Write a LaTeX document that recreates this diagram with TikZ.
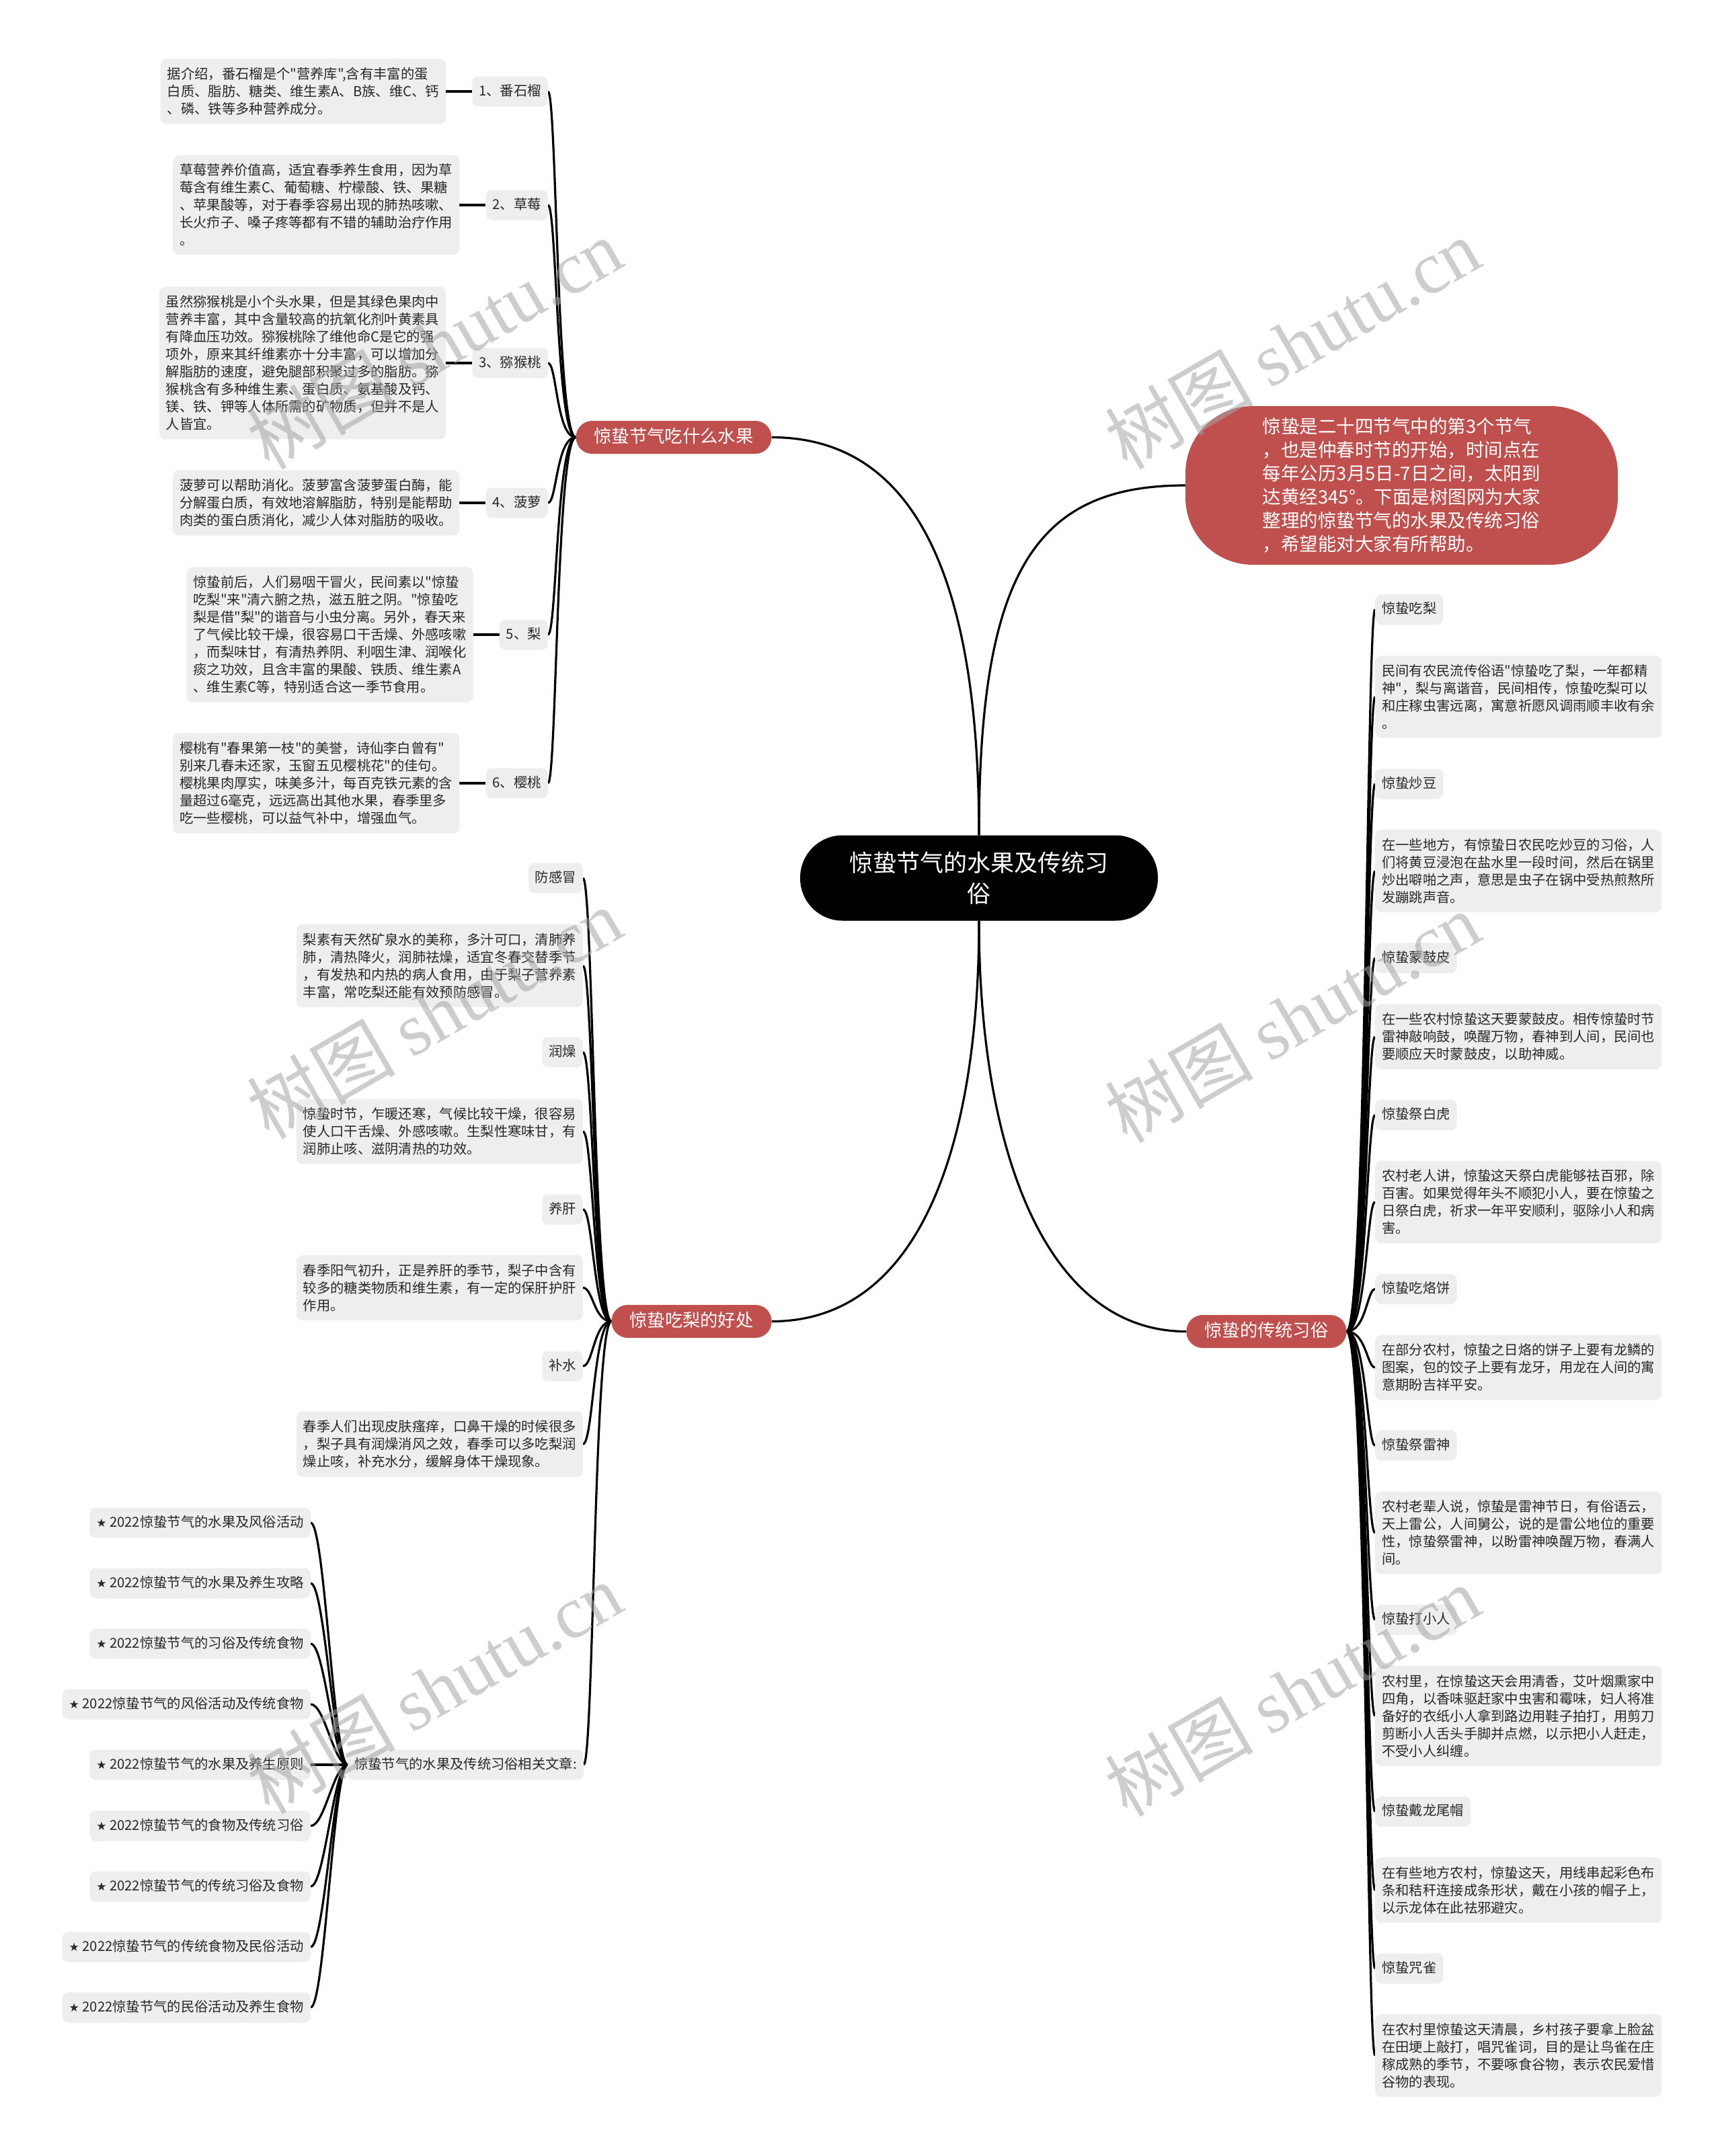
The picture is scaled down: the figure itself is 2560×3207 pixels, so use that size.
\documentclass[tikz,border=0pt]{standalone}
\usepackage{fontspec}
\setmainfont{Noto Sans CJK SC}[Ligatures=TeXOff]
\newfontfamily\dejavu{DejaVu Sans}
\newfontfamily\wmserif{Liberation Serif}
\pgfdeclarelayer{bg}
\pgfdeclarelayer{fg}
\pgfsetlayers{bg,main,fg}
\definecolor{redfill}{RGB}{192,80,77}
\definecolor{boxgray}{RGB}{238,238,238}
\definecolor{txtcol}{RGB}{40,40,40}
\definecolor{wmcol}{RGB}{165,165,165}
\tikzset{
  conn/.style={draw=black, line width=3.2pt},
  txtbox/.style={fill=boxgray, rounded corners=9pt, align=left, inner xsep=10pt, inner ysep=13pt, text=txtcol, font=\fontsize{20.3}{26}\selectfont},
  lbl/.style={fill=boxgray, rounded corners=9pt, inner xsep=10pt, inner ysep=0pt, text height=17pt, text depth=5pt, minimum height=45pt, text=txtcol, font=\fontsize{20.3}{26}\selectfont},
  redpill/.style={fill=redfill, rounded corners=24pt, text=white, minimum height=49pt, inner xsep=27pt, inner ysep=0pt, text height=21pt, text depth=5pt, font=\fontsize{26.3}{30}\selectfont},
  wmark/.style={text=wmcol, opacity=0.55, rotate=30, inner sep=0pt, font=\fontsize{110}{120}\selectfont},
}
\newcommand{\mystar}{{\dejavu\fontsize{17}{20}\selectfont ★}}
\begin{document}
\begin{tikzpicture}[x=1pt,y=-1pt]
\begin{pgfonlayer}{bg}
\fill[white] (0,0) rectangle (2560,3207);
\end{pgfonlayer}
\useasboundingbox (0,0) rectangle (2560,3207);

% root
\node[fill=black, text=white, rounded corners=63pt, minimum width=532pt, minimum height=127pt, align=center, inner sep=0pt, font=\fontsize{35}{46}\selectfont] (root) at (1456,1306) {惊蛰节气的水果及传统习\\俗};

% intro bubble
\node[fill=redfill, text=white, rounded corners=100pt, minimum width=643pt, minimum height=236pt, align=left, inner sep=0pt, font=\fontsize{27.5}{35}\selectfont] (intro) at (2084.5,722) {惊蛰是二十四节气中的第3个节气\\，也是仲春时节的开始，时间点在\\每年公历3月5日-7日之间，太阳到\\达黄经345°。下面是树图网为大家\\整理的惊蛰节气的水果及传统习俗\\，希望能对大家有所帮助。};

% main branches
\node[redpill] (fruit) at (1002,650.5) {惊蛰节气吃什么水果};
\node[redpill] (pear) at (1028.5,1965.5) {惊蛰吃梨的好处};
\node[redpill] (cust) at (1883.5,1980.5) {惊蛰的传统习俗};

% fruit labels
\node[lbl, anchor=east] (l1) at (815,136) {1、番石榴};
\node[lbl, anchor=east] (l2) at (815,305) {2、草莓};
\node[lbl, anchor=east] (l3) at (815,540) {3、猕猴桃};
\node[lbl, anchor=east] (l4) at (815,748) {4、菠萝};
\node[lbl, anchor=east] (l5) at (815,944) {5、梨};
\node[lbl, anchor=east] (l6) at (815,1165) {6、樱桃};

\node[txtbox, anchor=east] (t1) at ([xshift=-39pt]l1.west) {据介绍，番石榴是个"营养库",含有丰富的蛋\\白质、脂肪、糖类、维生素A、B族、维C、钙\\、磷、铁等多种营养成分。};
\node[txtbox, anchor=east] (t2) at ([xshift=-39pt]l2.west) {草莓营养价值高，适宜春季养生食用，因为草\\莓含有维生素C、葡萄糖、柠檬酸、铁、果糖\\、苹果酸等，对于春季容易出现的肺热咳嗽、\\长火疖子、嗓子疼等都有不错的辅助治疗作用\\。};
\node[txtbox, anchor=east] (t3) at ([xshift=-39pt]l3.west) {虽然猕猴桃是小个头水果，但是其绿色果肉中\\营养丰富，其中含量较高的抗氧化剂叶黄素具\\有降血压功效。猕猴桃除了维他命C是它的强\\项外，原来其纤维素亦十分丰富，可以增加分\\解脂肪的速度，避免腿部积聚过多的脂肪。猕\\猴桃含有多种维生素、蛋白质、氨基酸及钙、\\镁、铁、钾等人体所需的矿物质，但并不是人\\人皆宜。};
\node[txtbox, anchor=east] (t4) at ([xshift=-39pt]l4.west) {菠萝可以帮助消化。菠萝富含菠萝蛋白酶，能\\分解蛋白质，有效地溶解脂肪，特别是能帮助\\肉类的蛋白质消化，减少人体对脂肪的吸收。};
\node[txtbox, anchor=east] (t5) at ([xshift=-39pt]l5.west) {惊蛰前后，人们易咽干冒火，民间素以"惊蛰\\吃梨"来"清六腑之热，滋五脏之阴。"惊蛰吃\\梨是借"梨"的谐音与小虫分离。另外，春天来\\了气候比较干燥，很容易口干舌燥、外感咳嗽\\，而梨味甘，有清热养阴、利咽生津、润喉化\\痰之功效，且含丰富的果酸、铁质、维生素A\\、维生素C等，特别适合这一季节食用。};
\node[txtbox, anchor=east] (t6) at ([xshift=-39pt]l6.west) {樱桃有"春果第一枝"的美誉，诗仙李白曾有"\\别来几春未还家，玉窗五见樱桃花"的佳句。\\樱桃果肉厚实，味美多汁，每百克铁元素的含\\量超过6毫克，远远高出其他水果，春季里多\\吃一些樱桃，可以益气补中，增强血气。};

% pear children
\node[lbl, anchor=east] (pa) at (867,1306) {防感冒};
\node[txtbox, anchor=east] (pt1) at (867,1436.5) {梨素有天然矿泉水的美称，多汁可口，清肺养\\肺，清热降火，润肺祛燥，适宜冬春交替季节\\，有发热和内热的病人食用，由于梨子营养素\\丰富，常吃梨还能有效预防感冒。};
\node[lbl, anchor=east] (pb) at (867,1565) {润燥};
\node[txtbox, anchor=east] (pt2) at (867,1683) {惊蛰时节，乍暖还寒，气候比较干燥，很容易\\使人口干舌燥、外感咳嗽。生梨性寒味甘，有\\润肺止咳、滋阴清热的功效。};
\node[lbl, anchor=east] (pc) at (867,1799) {养肝};
\node[txtbox, anchor=east] (pt3) at (867,1915.5) {春季阳气初升，正是养肝的季节，梨子中含有\\较多的糖类物质和维生素，有一定的保肝护肝\\作用。};
\node[lbl, anchor=east] (pd) at (867,2032) {补水};
\node[txtbox, anchor=east] (pt4) at (867,2148) {春季人们出现皮肤瘙痒，口鼻干燥的时候很多\\，梨子具有润燥消风之效，春季可以多吃梨润\\燥止咳，补充水分，缓解身体干燥现象。};

% customs children
\node[lbl, anchor=west] (c1) at (2045,906.5) {惊蛰吃梨};
\node[txtbox, anchor=west] (ct1) at (2045,1036.5) {民间有农民流传俗语"惊蛰吃了梨，一年都精\\神"，梨与离谐音，民间相传，惊蛰吃梨可以\\和庄稼虫害远离，寓意祈愿风调雨顺丰收有余\\。};
\node[lbl, anchor=west] (c2) at (2045,1166) {惊蛰炒豆};
\node[txtbox, anchor=west] (ct2) at (2045,1295.5) {在一些地方，有惊蛰日农民吃炒豆的习俗，人\\们将黄豆浸泡在盐水里一段时间，然后在锅里\\炒出噼啪之声，意思是虫子在锅中受热煎熬所\\发蹦跳声音。};
\node[lbl, anchor=west] (c3) at (2045,1425) {惊蛰蒙鼓皮};
\node[txtbox, anchor=west] (ct3) at (2045,1542) {在一些农村惊蛰这天要蒙鼓皮。相传惊蛰时节\\雷神敲响鼓，唤醒万物，春神到人间，民间也\\要顺应天时蒙鼓皮，以助神威。};
\node[lbl, anchor=west] (c4) at (2045,1658.5) {惊蛰祭白虎};
\node[txtbox, anchor=west] (ct4) at (2045,1788) {农村老人讲，惊蛰这天祭白虎能够祛百邪，除\\百害。如果觉得年头不顺犯小人，要在惊蛰之\\日祭白虎，祈求一年平安顺利，驱除小人和病\\害。};
\node[lbl, anchor=west] (c5) at (2045,1917.5) {惊蛰吃烙饼};
\node[txtbox, anchor=west] (ct5) at (2045,2034) {在部分农村，惊蛰之日烙的饼子上要有龙鳞的\\图案，包的饺子上要有龙牙，用龙在人间的寓\\意期盼吉祥平安。};
\node[lbl, anchor=west] (c6) at (2045,2150) {惊蛰祭雷神};
\node[txtbox, anchor=west] (ct6) at (2045,2280) {农村老辈人说，惊蛰是雷神节日，有俗语云，\\天上雷公，人间舅公，说的是雷公地位的重要\\性，惊蛰祭雷神，以盼雷神唤醒万物，春满人\\间。};
\node[lbl, anchor=west] (c7) at (2045,2409.5) {惊蛰打小人};
\node[txtbox, anchor=west] (ct7) at (2045,2552.5) {农村里，在惊蛰这天会用清香，艾叶烟熏家中\\四角，以香味驱赶家中虫害和霉味，妇人将准\\备好的衣纸小人拿到路边用鞋子拍打，用剪刀\\剪断小人舌头手脚并点燃，以示把小人赶走，\\不受小人纠缠。};
\node[lbl, anchor=west] (c8) at (2045,2694.5) {惊蛰戴龙尾帽};
\node[txtbox, anchor=west] (ct8) at (2045,2811.5) {在有些地方农村，惊蛰这天，用线串起彩色布\\条和秸秆连接成条形状，戴在小孩的帽子上，\\以示龙体在此祛邪避灾。};
\node[lbl, anchor=west] (c9) at (2045,2928) {惊蛰咒雀};
\node[txtbox, anchor=west] (ct9) at (2045,3057.5) {在农村里惊蛰这天清晨，乡村孩子要拿上脸盆\\在田埂上敲打，唱咒雀词，目的是让鸟雀在庄\\稼成熟的季节，不要啄食谷物，表示农民爱惜\\谷物的表现。};

% related articles
\node[lbl, anchor=east] (rel) at (868,2625) {惊蛰节气的水果及传统习俗相关文章:};
\node[lbl, anchor=east] (s1) at (462,2265) {\mystar\ 2022惊蛰节气的水果及风俗活动};
\node[lbl, anchor=east] (s2) at (462,2355) {\mystar\ 2022惊蛰节气的水果及养生攻略};
\node[lbl, anchor=east] (s3) at (462,2445) {\mystar\ 2022惊蛰节气的习俗及传统食物};
\node[lbl, anchor=east] (s4) at (462,2535) {\mystar\ 2022惊蛰节气的风俗活动及传统食物};
\node[lbl, anchor=east] (s5) at (462,2625) {\mystar\ 2022惊蛰节气的水果及养生原则};
\node[lbl, anchor=east] (s6) at (462,2716) {\mystar\ 2022惊蛰节气的食物及传统习俗};
\node[lbl, anchor=east] (s7) at (462,2806) {\mystar\ 2022惊蛰节气的传统习俗及食物};
\node[lbl, anchor=east] (s8) at (462,2896) {\mystar\ 2022惊蛰节气的传统食物及民俗活动};
\node[lbl, anchor=east] (s9) at (462,2986) {\mystar\ 2022惊蛰节气的民俗活动及养生食物};

% connectors
\begin{pgfonlayer}{bg}
\draw[conn] (root.north) .. controls (1456,900) and (1380,650.5) .. (fruit.east);
\draw[conn] (root.north) .. controls (1456,850) and (1540,722) .. (intro.west);
\draw[conn] (root.south) .. controls (1456,1700) and (1370,1965.5) .. (pear.east);
\draw[conn] (root.south) .. controls (1456,1700) and (1550,1980.5) .. (cust.west);
\foreach \n in {1,...,6}{
  \draw[conn] (fruit.west) .. controls +(-29,0) and +(13,0) .. (l\n.east);
  \draw[conn] (t\n.east) -- (l\n.west);
}
\foreach \n in {pa,pt1,pb,pt2,pc,pt3,pd,pt4,rel}{
  \draw[conn] (pear.west) .. controls +(-26,0) and +(15,0) .. (\n.east);
}
\foreach \n in {c1,ct1,c2,ct2,c3,ct3,c4,ct4,c5,ct5,c6,ct6,c7,ct7,c8,ct8,c9,ct9}{
  \draw[conn] (cust.east) .. controls +(29,0) and +(-12,0) .. (\n.west);
}
\foreach \n in {1,...,9}{
  \draw[conn] (rel.west) .. controls +(-21,0) and +(21,0) .. (s\n.east);
}
\end{pgfonlayer}

% watermarks
\begin{pgfonlayer}{fg}
\node[wmark] (w1) at (646,511) {树图 {\wmserif shutu.cn}};
\node[wmark] (w2) at (646,1507) {树图 {\wmserif shutu.cn}};
\node[wmark] (w3) at (646,2511) {树图 {\wmserif shutu.cn}};
\node[wmark] (w4) at (1922,511) {树图 {\wmserif shutu.cn}};
\node[wmark] (w5) at (1922,1513) {树图 {\wmserif shutu.cn}};
\node[wmark] (w6) at (1922,2515) {树图 {\wmserif shutu.cn}};
\end{pgfonlayer}
\end{tikzpicture}
\end{document}
